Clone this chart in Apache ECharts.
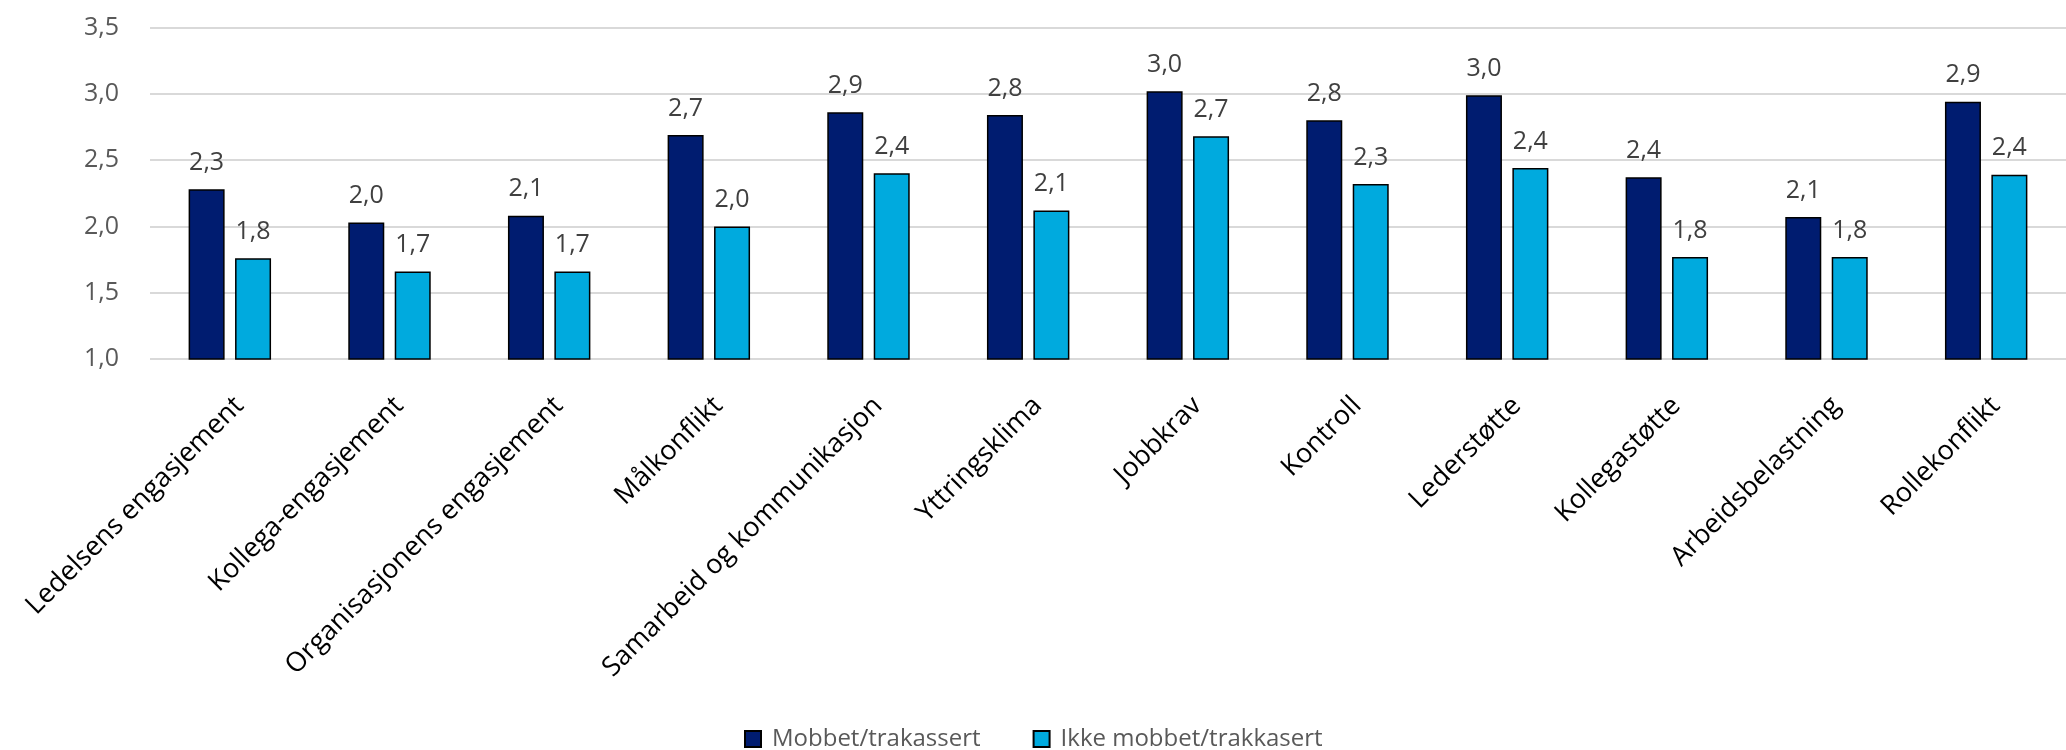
<!DOCTYPE html>
<html>
<head>
<meta charset="utf-8">
<script src="https://cdn.jsdelivr.net/npm/echarts@6/dist/echarts.min.js"></script>
<style>
  html, body { margin: 0; padding: 0; background: #fff; }
  #chart { width: 2066px; height: 750px; }
</style>
</head>
<body>
<div id="chart"></div>
<script>
// categories along the x axis
const categories = [
  'Ledelsens engasjement', 'Kollega-engasjement', 'Organisasjonens engasjement',
  'Målkonflikt', 'Samarbeid og kommunikasjon', 'Yttringsklima', 'Jobbkrav',
  'Kontroll', 'Lederstøtte', 'Kollegastøtte', 'Arbeidsbelastning', 'Rollekonflikt'
];
const seriesNames = ['Mobbet/trakassert', 'Ikke mobbet/trakkasert'];
// values
const mobbet = [2.28, 2.03, 2.08, 2.69, 2.86, 2.84, 3.02, 2.80, 2.99, 2.37, 2.07, 2.94];
const ikkeMobbet = [1.76, 1.66, 1.66, 2.00, 2.40, 2.12, 2.68, 2.32, 2.44, 1.77, 1.77, 2.39];
const yTicks = [1.0, 1.5, 2.0, 2.5, 3.0, 3.5];

const font = '"Open Sans", "Noto Sans", sans-serif';
const fmt = v => v.toFixed(1).replace('.', ',');

let chartDom = document.getElementById('chart');
let myChart = echarts.init(chartDom);
let option;

function barSeries(name, data, color) {
  return {
    name: name,
    type: 'bar',
    data: data,
    barWidth: 36,
    barGap: '29%',
    animation: false,
    itemStyle: {
      color: color,
      borderColor: '#000',
      borderWidth: 1.5
    },
    label: {
      show: true,
      position: 'top',
      distance: 14,
      color: '#404040',
      fontFamily: font,
      fontSize: 25,
      formatter: p => fmt(p.value)
    }
  };
}

option = {
  backgroundColor: '#fff',
  animation: false,
  grid: {
    left: 150,
    top: 27.5,
    width: 1934,
    bottom: 391,
    containLabel: false
  },
  legend: {
    data: seriesNames,
    left: 739,
    top: 722,
    itemWidth: 16,
    itemHeight: 16,
    itemGap: 52,
    icon: 'rect',
    textStyle: {
      color: '#595959',
      fontFamily: font,
      fontSize: 24,
      padding: [0, 0, 0, 6]
    }
  },
  xAxis: {
    type: 'category',
    data: categories,
    axisLine: { show: false },
    axisTick: { show: false },
    axisLabel: {
      rotate: 45,
      interval: 0,
      margin: 33,
      verticalAlign: 'top',
      color: '#000',
      fontFamily: font,
      fontSize: 27
    }
  },
  yAxis: {
    type: 'value',
    min: yTicks[0],
    max: yTicks[yTicks.length - 1],
    interval: 0.5,
    axisLine: { show: false },
    axisTick: { show: false },
    axisLabel: {
      margin: 31,
      color: '#595959',
      fontFamily: font,
      fontSize: 25,
      formatter: v => fmt(v)
    },
    splitLine: {
      lineStyle: { color: '#d9d9d9', width: 2 }
    }
  },
  series: [
    barSeries(seriesNames[0], mobbet, '#001C70'),
    barSeries(seriesNames[1], ikkeMobbet, '#00AADE')
  ]
};
myChart.setOption(option, true);
</script>
</body>
</html>
